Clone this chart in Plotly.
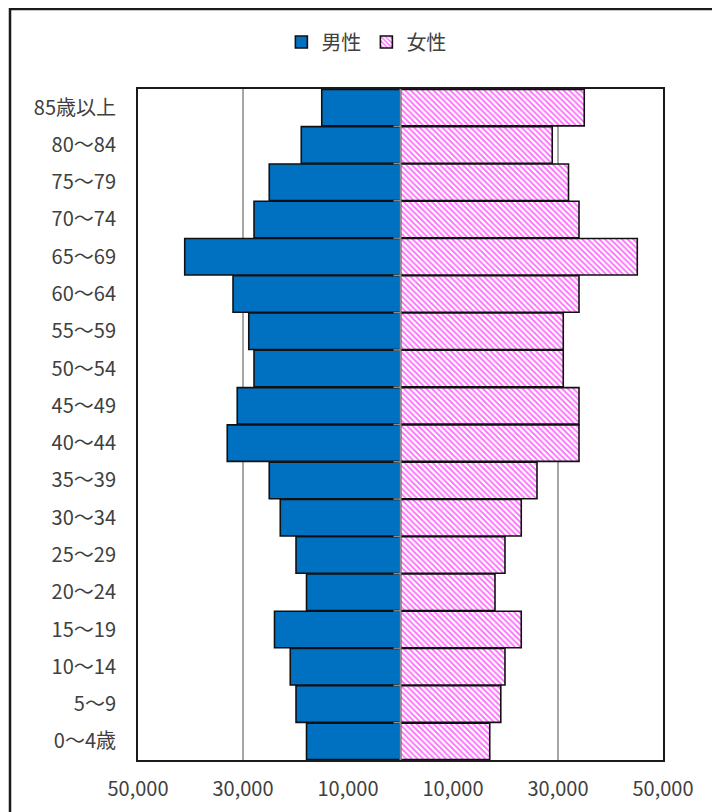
import plotly.graph_objects as go

categories = ["0～4歳", "5～9", "10～14", "15～19", "20～24", "25～29", "30～34",
              "35～39", "40～44", "45～49", "50～54", "55～59", "60～64", "65～69",
              "70～74", "75～79", "80～84", "85歳以上"]
male = [17900, 19900, 21000, 24000, 17900, 19900, 22900, 25000, 33000, 31100,
        27900, 28900, 31900, 41100, 27900, 25000, 18900, 15000]
female = [17000, 19100, 19900, 23000, 18000, 19900, 23000, 26000, 34000, 34000,
          31000, 31000, 34000, 45100, 34000, 32000, 28900, 35000]
tick_vals = [-50000, -30000, -10000, 10000, 30000, 50000]
tick_text = ["50,000", "30,000", "10,000", "10,000", "30,000", "50,000"]

FONT = "Noto Sans CJK JP"
TXT = "#404040"

fig = go.Figure()
fig.add_trace(go.Bar(
    y=categories, x=[-v for v in male], name="男性", orientation="h",
    marker=dict(color="#0070C0", line=dict(color="#111111", width=1.6)),
))
fig.add_trace(go.Bar(
    y=categories, x=female, name="女性", orientation="h",
    marker=dict(color="white", line=dict(color="#111111", width=1.6),
                pattern=dict(shape="\\", fgcolor="#FF66FF", bgcolor="white",
                             size=4, solidity=0.45, fillmode="replace")),
))

L, T, PW, PH = 130, 81, 525, 671

shapes = []
shapes.append(dict(type="line", xref="x", yref="paper", x0=0, x1=0, y0=0, y1=1,
                   line=dict(color="#8c8c8c", width=2), layer="above"))
for i in range(1, len(categories)):
    shapes.append(dict(type="line", xref="x", yref="y", xsizemode="pixel", xanchor=0,
                       x0=-7, x1=0, y0=i - 0.5, y1=i - 0.5,
                       line=dict(color="#8c8c8c", width=1.5), layer="above"))
shapes.append(dict(type="rect", xref="paper", yref="paper",
                   x0=(2 - L) / PW, x1=1.3, y0=-0.3, y1=1 + (T - 1) / PH,
                   line=dict(color="#1a1a1a", width=2.5), layer="below"))

fig.update_layout(
    width=720, height=812,
    margin=dict(l=L, r=720 - L - PW, t=T, b=812 - T - PH),
    paper_bgcolor="white", plot_bgcolor="white",
    barmode="overlay", bargap=0.02,
    font=dict(family=FONT, size=20, color=TXT),
    showlegend=True,
    legend=dict(orientation="h", x=0.435, xanchor="center", y=1.07, yanchor="middle",
                font=dict(family=FONT, size=20, color=TXT), itemwidth=30,
                traceorder="normal", bgcolor="rgba(0,0,0,0)"),
    shapes=shapes,
)
fig.update_xaxes(range=[-50000, 50000], tickvals=tick_vals, ticktext=tick_text,
                 showgrid=True, gridcolor="#a6a6a6", gridwidth=1.5,
                 zeroline=False, showline=True, mirror=True, linecolor="#1a1a1a",
                 linewidth=2, ticks="", ticklabelstandoff=10, fixedrange=True)
fig.update_yaxes(categoryorder="array", categoryarray=categories,
                 showgrid=False, zeroline=False, showline=True, mirror=True,
                 linecolor="#1a1a1a", linewidth=2, ticks="", ticklabelstandoff=16,
                 range=[-0.5, len(categories) - 0.5], fixedrange=True)

fig.write_html("out.html")
